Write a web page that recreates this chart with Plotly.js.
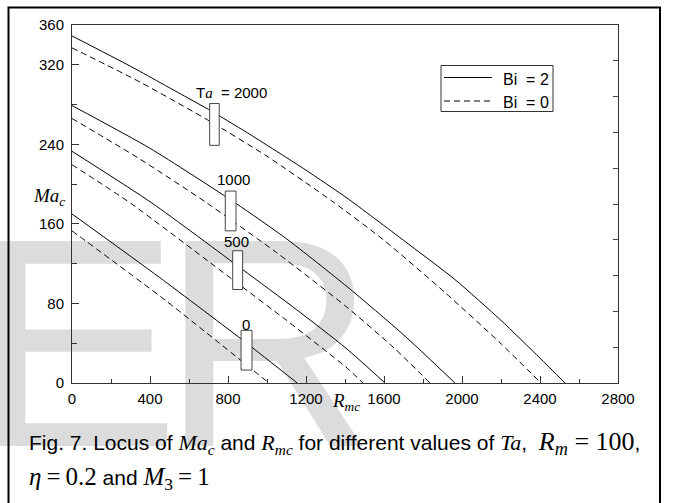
<!DOCTYPE html>
<html>
<head>
<meta charset="utf-8">
<script src="https://cdn.plot.ly/plotly-3.0.1.min.js"></script>
<style>
  html, body { margin: 0; padding: 0; background: #ffffff; }
  #wrap { position: relative; width: 673px; height: 503px; overflow: hidden; }
  #wm { position: absolute; left: 0; top: 0; }
  #chart { position: absolute; left: 0; top: 0; width: 673px; height: 503px; }
</style>
</head>
<body>
<div id="wrap">
  <svg id="wm" width="673" height="503">
    <text transform="translate(-30,446) scale(1.06,1)" x="0" y="0" font-family="Liberation Sans, Arial, sans-serif" font-size="298" fill="#dcdcdc">E</text>
    <text x="161" y="446" font-family="Liberation Sans, Arial, sans-serif" font-size="298" fill="#dcdcdc">R</text>
  </svg>
  <div id="chart"></div>
</div>
<script>
// ---- data ----
const ta2000_bi2_x = [0, 300, 600, 701, 900, 1200, 1410, 1700, 1964, 2200, 2400, 2528];
const ta2000_bi2_y = [349, 318.5, 286, 275, 251.5, 214, 186, 143.5, 104, 63, 25, 0];
const ta2000_bi0_x = [0, 350, 709, 1000, 1333, 1600, 1913, 2200, 2405];
const ta2000_bi0_y = [337, 302.5, 263, 228, 183, 143.5, 91, 39.5, 0];

const ta1000_bi2_x = [0, 400, 838, 1100, 1410, 1700, 1964];
const ta1000_bi2_y = [279, 236, 181, 145, 97, 48.5, 0];
const ta1000_bi0_x = [0, 350, 692, 1050, 1405, 1650, 1836];
const ta1000_bi0_y = [266, 225, 181, 131, 77, 35.5, 0];

const ta500_bi2_x = [0, 410, 872, 1150, 1405, 1605];
const ta500_bi2_y = [233, 181, 114.5, 74, 35, 0];
const ta500_bi0_x = [0, 299, 820, 1100, 1405, 1492];
const ta500_bi0_y = [219.5, 181, 104.5, 63, 16, 0];

const ta0_bi2_x = [0, 450, 889, 1155];
const ta0_bi2_y = [170, 106, 41, 0];
const ta0_bi0_x = [0, 480, 1010];
const ta0_bi0_y = [153, 83, 0];

const xTickVals = [0, 400, 800, 1200, 1600, 2000, 2400, 2800];
const xTickText = ['0', '400', '800', '1200', '1600', '2000', '2400', '2800'];
const xMinorVals = [200, 600, 1000, 1400, 1800, 2200, 2600];
const yTickVals = [0, 80, 160, 240, 320, 360];
const yTickText = ['0', '80', '160', '240', '320', '360'];
const yMinorVals = [40, 120, 200, 280];

const taLabels = ['T<span style="font-family:Liberation Serif"><i>a</i></span>\u00a0\u00a0= 2000', '1000', '500', '0'];
const legendLabels = ['Bi\u00a0\u00a0= 2', 'Bi\u00a0\u00a0= 0'];

// ---- traces ----
const solid = {color: '#000000', width: 1, shape: 'spline', smoothing: 0.6};
const dashed = {color: '#000000', width: 1, dash: '6px,4px', shape: 'spline', smoothing: 0.6};
function tr(x, y, ln) { return {x: x, y: y, type: 'scatter', mode: 'lines', line: ln, showlegend: false, hoverinfo: 'skip'}; }
const traces = [
  tr(ta2000_bi2_x, ta2000_bi2_y, solid), tr(ta2000_bi0_x, ta2000_bi0_y, dashed),
  tr(ta1000_bi2_x, ta1000_bi2_y, solid), tr(ta1000_bi0_x, ta1000_bi0_y, dashed),
  tr(ta500_bi2_x, ta500_bi2_y, solid), tr(ta500_bi0_x, ta500_bi0_y, dashed),
  tr(ta0_bi2_x, ta0_bi2_y, solid), tr(ta0_bi0_x, ta0_bi0_y, dashed),
  {x: [], y: [], yaxis: 'y2', type: 'scatter', mode: 'lines', showlegend: false}
];

// ---- layout helpers ----
const L = 72, T = 25, W = 546, H = 358;
const px = v => (v - L) / W;
const py = v => (T + H - v) / H;
const SANS = 'Liberation Sans, Arial, sans-serif';
const SER = 'font-family:Liberation Serif';

const boxes = [[706, 755, 239, 281], [786, 841, 153, 193], [824, 875, 94, 133], [867, 923, 13, 53]];
const labelPos = [[818, 292], [826, 205], [843, 142], [891, 59]];

const shapes = [];
boxes.forEach(b => shapes.push({type: 'rect', xref: 'x', yref: 'y', x0: b[0], x1: b[1], y0: b[2], y1: b[3],
  fillcolor: '#ffffff', line: {color: '#444444', width: 1}, layer: 'above'}));
// legend frame and samples
shapes.push({type: 'rect', xref: 'paper', yref: 'paper', x0: px(441), x1: px(553), y0: py(111.5), y1: py(65.5),
  fillcolor: '#ffffff', line: {color: '#333333', width: 1}, layer: 'above'});
shapes.push({type: 'line', xref: 'paper', yref: 'paper', x0: px(444), x1: px(492), y0: py(77.5), y1: py(77.5),
  line: {color: '#000000', width: 1}, layer: 'above'});
shapes.push({type: 'line', xref: 'paper', yref: 'paper', x0: px(444), x1: px(490), y0: py(101), y1: py(101),
  line: {color: '#000000', width: 1, dash: '6px,4px'}, layer: 'above'});
// outer frame
shapes.push({type: 'rect', xref: 'paper', yref: 'paper', x0: px(8.5), x1: px(660), y0: py(520), y1: py(7.5),
  line: {color: '#000000', width: 2}, layer: 'above'});

const annotations = [];
taLabels.forEach((t, i) => annotations.push({x: labelPos[i][0], y: labelPos[i][1], xref: 'x', yref: 'y',
  text: t, showarrow: false, xanchor: 'center', yanchor: 'middle', font: {family: SANS, size: 15, color: '#000'}}));
annotations.push({x: px(501), y: py(79), xref: 'paper', yref: 'paper', text: legendLabels[0], showarrow: false,
  xanchor: 'left', yanchor: 'middle', font: {family: SANS, size: 16, color: '#000'}});
annotations.push({x: px(501), y: py(102.5), xref: 'paper', yref: 'paper', text: legendLabels[1], showarrow: false,
  xanchor: 'left', yanchor: 'middle', font: {family: SANS, size: 16, color: '#000'}});
// axis titles
annotations.push({x: px(31), y: py(197), xref: 'paper', yref: 'paper', showarrow: false, xanchor: 'left', yanchor: 'middle',
  text: '<i>Ma</i><sub><i>c</i></sub>', font: {family: 'Liberation Serif, serif', size: 19, color: '#000'}});
annotations.push({x: px(330), y: py(402), xref: 'paper', yref: 'paper', showarrow: false, xanchor: 'left', yanchor: 'middle',
  text: '<i>R</i><sub><i>mc</i></sub>', font: {family: 'Liberation Serif, serif', size: 19, color: '#000'}});
// caption
annotations.push({x: px(27), y: py(443), xref: 'paper', yref: 'paper', showarrow: false, xanchor: 'left', yanchor: 'middle', align: 'left',
  font: {family: SANS, size: 21, color: '#000'},
  text: 'Fig. 7. Locus of <span style="' + SER + ';font-size:22px"><i>Ma</i><sub><i>c</i></sub></span> and ' +
        '<span style="' + SER + ';font-size:22px"><i>R</i><sub><i>mc</i></sub></span> for different values of ' +
        '<span style="' + SER + ';font-size:22px"><i>Ta</i></span>,  ' +
        '<span style="' + SER + ';font-size:26px"><i>R</i><sub><i>m</i></sub> = 100</span>,'});
annotations.push({x: px(27), y: py(478), xref: 'paper', yref: 'paper', showarrow: false, xanchor: 'left', yanchor: 'middle', align: 'left',
  font: {family: SANS, size: 21, color: '#000'},
  text: '<span style="' + SER + ';font-size:25px"><i>η</i>\u2009=\u20090.2</span> and ' +
        '<span style="' + SER + ';font-size:25px"><i>M</i><sub>3</sub>\u2009=\u20091</span>'});

const axisCommon = {
  showgrid: false, zeroline: false, showline: true, linecolor: '#333333', linewidth: 1, mirror: true,
  ticks: 'inside', ticklen: 7, tickwidth: 1, tickcolor: '#333333',
  tickfont: {family: SANS, size: 15, color: '#000'}, fixedrange: true
};

const layout = {
  width: 673, height: 503,
  margin: {l: L, r: 673 - L - W, t: T, b: 503 - T - H, pad: 0},
  paper_bgcolor: 'rgba(0,0,0,0)', plot_bgcolor: 'rgba(0,0,0,0)',
  showlegend: false,
  xaxis: Object.assign({}, axisCommon, {range: [0, 2800], tickmode: 'array', tickvals: xTickVals, ticktext: xTickText,
    ticklabelstandoff: 2,
    minor: {tickmode: 'array', tickvals: xMinorVals, ticks: 'inside', ticklen: 4, tickcolor: '#333333'}}),
  yaxis: Object.assign({}, axisCommon, {range: [0, 360], tickmode: 'array', tickvals: yTickVals, ticktext: yTickText,
    ticklabelstandoff: 4,
    minor: {tickmode: 'array', tickvals: yMinorVals, ticks: 'inside', ticklen: 5, tickcolor: '#333333'}}),
  yaxis2: {overlaying: 'y', side: 'right', range: [0, 10], dtick: 1, tick0: 0, ticks: 'inside', ticklen: 5,
    tickcolor: '#444444', showticklabels: false, showgrid: false, zeroline: false, showline: false, fixedrange: true},
  shapes: shapes,
  annotations: annotations
};

Plotly.newPlot('chart', traces, layout, {displayModeBar: false, staticPlot: true});
</script>
</body>
</html>
